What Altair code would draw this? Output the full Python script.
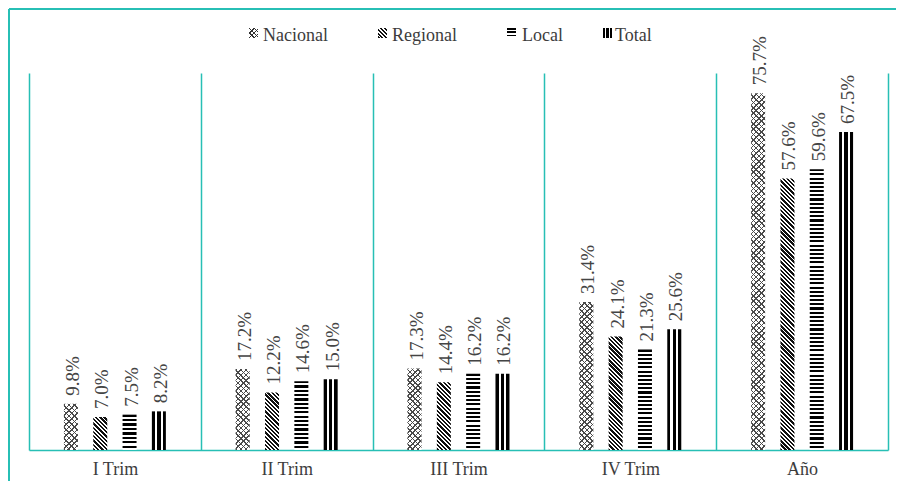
import math
import altair as alt

categories = ["I Trim", "II Trim", "III Trim", "IV Trim", "Año"]
series = ["Nacional", "Regional", "Local", "Total"]
nacional = [9.8, 17.2, 17.3, 31.4, 75.7]
regional = [7.0, 12.2, 14.4, 24.1, 57.6]
local = [7.5, 14.6, 16.2, 21.3, 59.6]
total = [8.2, 15.0, 16.2, 25.6, 67.5]

W, H = 859, 377
YMAX = 80
BAR_W = 14
TEAL = "#27bfb5"
TEXT = "#3c3c3c"
FONT = "Liberation Serif"
CLEAR = "rgba(255,255,255,0)"


def stripe_stops(n, dark, color, light="#ffffff"):
    out = []
    for i in range(n):
        a, b, c = i / n, (i + dark) / n, (i + 1) / n
        out += [{"offset": a, "color": color}, {"offset": b, "color": color},
                {"offset": b, "color": light}, {"offset": c, "color": light}]
    return out


def diag(w, h, pitch, dark, color, light="#ffffff", down=True):
    k = (w + h) / (w * w + h * h)
    n = max(1, round((w + h) / math.sqrt(2) / pitch))
    if down:
        g = {"x1": 0, "y1": 1, "x2": k * w, "y2": 1 - k * h}
    else:
        g = {"x1": 0, "y1": 0, "x2": k * w, "y2": k * h}
    g.update({"gradient": "linear", "stops": stripe_stops(n, dark, color, light)})
    return g


def horiz(h, pitch, dark, color):
    n = max(1, round(h / pitch))
    return {"gradient": "linear", "x1": 0, "y1": 0, "x2": 0.000001, "y2": 1,
            "stops": stripe_stops(n, dark, color)}


def vert():
    cuts = [(0, 0.23, "#000000"), (0.23, 0.38, "#ffffff"), (0.38, 0.62, "#000000"),
            (0.62, 0.77, "#ffffff"), (0.77, 1.0, "#000000")]
    st = []
    for a, b, c in cuts:
        st += [{"offset": a, "color": c}, {"offset": b, "color": c}]
    return {"gradient": "linear", "x1": 0, "y1": 0, "x2": 1, "y2": 0, "stops": st}


def fills(s, w, h):
    if s == "Nacional":
        return (diag(w, h, 3.8, 0.28, "#4a4a4a", down=False),
                diag(w, h, 3.8, 0.28, "#4a4a4a", light=CLEAR, down=True))
    if s == "Regional":
        return diag(w, h, 3.0, 0.55, "#111111", down=True), CLEAR
    if s == "Local":
        return horiz(h, 4.2, 0.5, "#000000"), CLEAR
    return vert(), CLEAR


values = {"Nacional": nacional, "Regional": regional, "Local": local, "Total": total}
records = []
for s in series:
    for c, v in zip(categories, values[s]):
        h = v / YMAX * H
        f1, f2 = fills(s, BAR_W, h)
        records.append({"cat": c, "series": s, "value": v,
                        "label": f"{v:.1f}%", "fill": f1, "fill2": f2})

data = alt.Data(values=records)

x_enc = alt.X("cat:N", sort=categories,
              scale=alt.Scale(paddingInner=0, paddingOuter=0),
              axis=alt.Axis(title=None, ticks=False, domainColor=TEAL, domainWidth=1.5,
                            grid=True, gridColor=TEAL, gridWidth=1.5, tickBand="extent",
                            labelFont=FONT, labelFontSize=18, labelColor=TEXT,
                            labelPadding=10, labelAngle=0))
xo_enc = alt.XOffset("series:N", sort=series,
                     scale=alt.Scale(paddingInner=0, paddingOuter=0.93))
y_enc = alt.Y("value:Q", scale=alt.Scale(domain=[0, YMAX]), axis=None)

bars = alt.Chart(data).mark_bar(width=BAR_W).encode(
    x=x_enc, xOffset=xo_enc, y=y_enc,
    fill=alt.Fill("fill:N", scale=None, legend=None))
bars2 = alt.Chart(data).mark_bar(width=BAR_W).encode(
    x=x_enc, xOffset=xo_enc, y=y_enc,
    fill=alt.Fill("fill2:N", scale=None, legend=None))
labels = alt.Chart(data).mark_text(
    angle=270, align="left", baseline="middle", dx=8, dy=2,
    font=FONT, fontSize=19, color="#444444").encode(
    x=x_enc, xOffset=xo_enc, y=y_enc, text="label:N")

# outer frame
frame_l = alt.Chart(data).mark_rule(color=TEAL, strokeWidth=2).encode(
    x=alt.value(-20), y=alt.value(-64), y2=alt.value(410))
frame_t = alt.Chart(data).mark_rule(color=TEAL, strokeWidth=2).encode(
    x=alt.value(-20), x2=alt.value(870), y=alt.value(-64))

# legend
icon_x = [220, 349, 478, 574]
text_x = [234, 363, 493, 586]
icon_fill = {
    "Nacional": (diag(9, 10, 3.0, 0.3, "#333333", down=False),
                 diag(9, 10, 3.0, 0.3, "#333333", light=CLEAR, down=True)),
    "Regional": (diag(9, 10, 2.6, 0.55, "#111111", down=True), CLEAR),
    "Local": (horiz(10, 3.4, 0.5, "#000000"), CLEAR),
    "Total": (vert(), CLEAR),
}
legend_layers = []
for s, ix, tx in zip(series, icon_x, text_x):
    d = alt.Data(values=[{"s": s}])
    f1, f2 = icon_fill[s]
    legend_layers.append(alt.Chart(d).mark_rect().encode(
        x=alt.value(ix), x2=alt.value(ix + 9), y=alt.value(-45), y2=alt.value(-35),
        fill=alt.value(f1)))
    if f2 != CLEAR:
        legend_layers.append(alt.Chart(d).mark_rect().encode(
            x=alt.value(ix), x2=alt.value(ix + 9), y=alt.value(-45), y2=alt.value(-35),
            fill=alt.value(f2)))
    legend_layers.append(alt.Chart(d).mark_text(
        align="left", baseline="alphabetic", font=FONT, fontSize=18, color=TEXT).encode(
        x=alt.value(tx), y=alt.value(-32), text="s:N"))

chart = alt.layer(bars, bars2, labels, frame_l, frame_t, *legend_layers).properties(
    width=W, height=H,
    padding={"left": 21, "top": 65, "right": 8, "bottom": 31},
    autosize=alt.AutoSizeParams(type="none"),
    background="white",
).configure_view(strokeWidth=0)

chart.save("out.html", embed_options={"renderer": "svg", "actions": False})
